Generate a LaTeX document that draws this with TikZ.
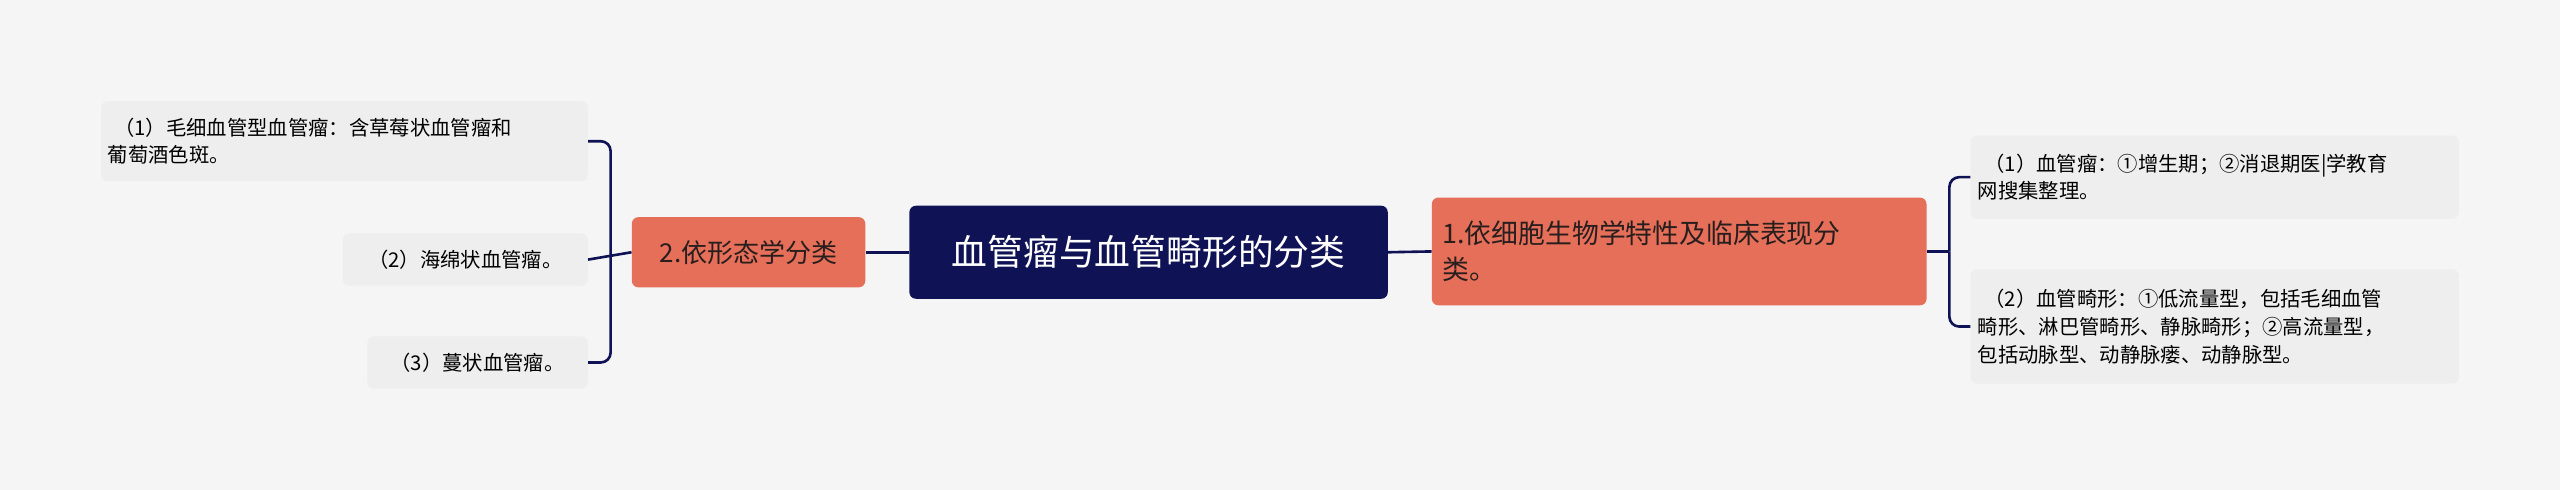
\documentclass[tikz,border=0pt]{standalone}
\usepackage{fontspec}
\setmainfont{Noto Sans CJK SC}
\begin{document}
\begin{tikzpicture}[x=1bp,y=-1bp,
 leaf/.style={fill=leafc,rounded corners=4bp,anchor=north west,inner sep=0,minimum height=#1},
 ln/.style={draw=navy,line width=1.6bp,rounded corners=6bp}]
\definecolor{navy}{HTML}{0F1254}
\definecolor{leafc}{HTML}{EEEEEE}
\definecolor{orng}{HTML}{E56F59}
\fill[fill={rgb,255:red,245;green,245;blue,245}] (0,0) rectangle (1568,300);
\useasboundingbox (0,0) rectangle (1568,300);
% center
\node[fill=navy,rounded corners=4bp,minimum width=293bp,minimum height=57bp,text=white,font=\fontsize{22}{26}\selectfont] (c) at (703.5,154.5) {血管瘤与血管畸形的分类};
\node[fill=orng,rounded corners=4bp,minimum width=143bp,minimum height=43bp,font=\fontsize{16}{20}\selectfont,text={rgb,255:red,40;green,30;blue,30}] (l) at (458.5,154.5) {2.依形态学分类};
\node[fill=orng,rounded corners=4bp,minimum width=303bp,minimum height=66bp,font=\fontsize{16.5}{22}\selectfont,text={rgb,255:red,40;green,30;blue,30},align=left,text width=290bp] (r) at (1028.5,154) {1.依细胞生物学特性及临床表现分\\类。};
% left leaves
\node[fill=leafc,rounded corners=4bp,minimum width=298bp,minimum height=49bp,font=\fontsize{12.5}{17}\selectfont,align=left,text width=290bp] (a1) at (211,86.5) {\hspace*{4bp}（1）毛细血管型血管瘤：含草莓状血管瘤和\\葡萄酒色斑。};
\node[fill=leafc,rounded corners=4bp,minimum width=150bp,minimum height=32bp,font=\fontsize{12.5}{17}\selectfont] (a2) at (285,159) {（2）海绵状血管瘤。};
\node[fill=leafc,rounded corners=4bp,minimum width=135bp,minimum height=32bp,font=\fontsize{12.5}{17}\selectfont] (a3) at (292.5,222) {（3）蔓状血管瘤。};
% right leaves
\node[fill=leafc,rounded corners=4bp,minimum width=299bp,minimum height=51bp,font=\fontsize{12.5}{17}\selectfont,align=left,text width=290bp] (b1) at (1356.5,108.5) {\hspace*{4bp}（1）血管瘤：①增生期；②消退期医|学教育\\网搜集整理。};
\node[fill=leafc,rounded corners=4bp,minimum width=299bp,minimum height=70bp,font=\fontsize{12.5}{17}\selectfont,align=left,text width=290bp] (b2) at (1356.5,200) {\hspace*{4bp}（2）血管畸形：①低流量型，包括毛细血管\\畸形、淋巴管畸形、静脉畸形；②高流量型，\\包括动脉型、动静脉瘘、动静脉型。};
% connectors
\draw[ln] (c.west) -- (l.east);
\draw[ln] (c.east) -- (r.west);
\draw[ln] (l.west) -- (a2.east);
\draw[ln] (374,155) |- (a1.east);
\draw[ln] (374,155) |- (a3.east);
\draw[ln] (r.east) -- (1194,154);
\draw[ln] (1194,154) |- (b1.west);
\draw[ln] (1194,154) |- (b2.west);
\end{tikzpicture}
\end{document}
